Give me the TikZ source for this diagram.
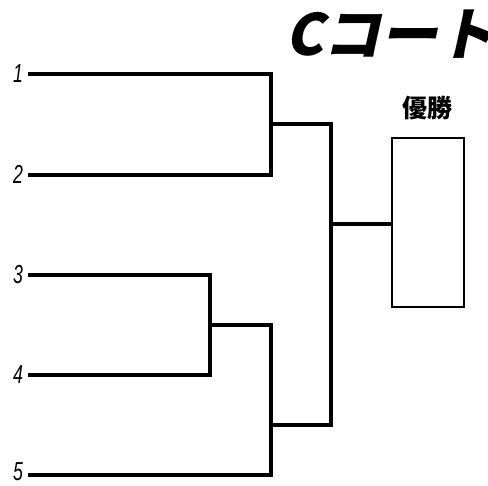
\documentclass[tikz,border=0pt]{standalone}
\usepackage{fontspec}
\setmainfont{Liberation Sans}
\newfontfamily\cjk{Noto Sans CJK JP}
\newfontfamily\titlefont{Noto Sans CJK JP}[FakeSlant=0.22]
\begin{document}
\begin{tikzpicture}[x=1pt,y=-1pt,
  bline/.style={line width=3.2pt,line cap=rect},
  numlbl/.style={anchor=east,inner sep=0pt,font=\fontsize{26}{28}\selectfont\itshape,xscale=0.68},
  winbox/.style={draw,line width=1.4pt,minimum width=72pt,minimum height=169pt,inner sep=0pt}]
\useasboundingbox (0,0) rectangle (488,486);
% title
\node[anchor=west,inner sep=0pt,font=\titlefont\bfseries\fontsize{57}{60}\selectfont] (title) at (285,34) {Cコート};
% players
\node[numlbl] (p1) at (23,74) {1};
\node[numlbl] (p2) at (23,174) {2};
\node[numlbl] (p3) at (23,275) {3};
\node[numlbl] (p4) at (23,375) {4};
\node[numlbl] (p5) at (23,472) {5};
\coordinate (s1) at (30,74);
\coordinate (s2) at (30,175);
\coordinate (s3) at (30,275);
\coordinate (s4) at (30,375);
\coordinate (s5) at (30,475);
% junctions
\coordinate (a1) at (271,74);
\coordinate (a2) at (271,175);
\coordinate (am) at (271,124);
\coordinate (b1) at (210,275);
\coordinate (b2) at (210,375);
\coordinate (bm) at (210,325);
\coordinate (c1) at (271,325);
\coordinate (c2) at (271,475);
\coordinate (cm) at (271,425);
\coordinate (f1) at (331,124);
\coordinate (f2) at (331,425);
\coordinate (fm) at (331,224);
% winner
\node[winbox] (win) at (428,222.5) {};
\node[font=\cjk\bfseries\fontsize{25}{27}\selectfont,inner sep=0pt] (wl) at (427,108) {優勝};
% brackets
\draw[bline] (s1) -- (a1) -- (a2) -- (s2);
\draw[bline] (s3) -- (b1) -- (b2) -- (s4);
\draw[bline] (bm) -- (c1) -- (c2) -- (s5);
\draw[bline] (am) -- (f1) -- (f2) -- (cm);
\draw[bline] (fm) -- (win.west |- fm);
\end{tikzpicture}
\end{document}
